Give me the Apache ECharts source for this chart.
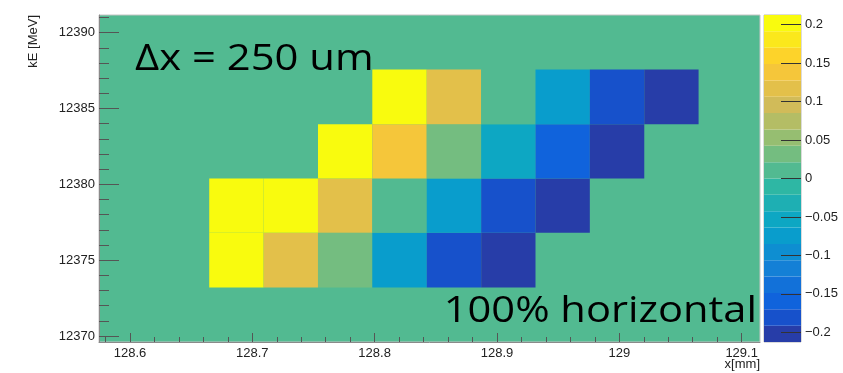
<!DOCTYPE html>
<html>
<head>
<meta charset="utf-8">
<script src="https://cdn.jsdelivr.net/npm/echarts@6/dist/echarts.min.js"></script>
<style>
  html, body { margin: 0; padding: 0; background: #fff; }
  #chart { width: 843px; height: 373px; }
</style>
</head>
<body>
<div id="chart"></div>
<script>
// Bin edges of the 2D histogram (x in mm, kinetic energy in MeV)
const xEdges = [128.6648, 128.7093, 128.7537, 128.7981, 128.8426, 128.8871, 128.9315, 128.9759, 129.0204, 129.0648];
const yEdges = [12373.19, 12376.80, 12380.39, 12383.97, 12387.58];

// Bin contents, one array per energy row (bottom to top), null = empty bin
const row0 = [0.20, 0.12, 0.03, -0.07, -0.18, -0.20, null, null, null];
const row1 = [0.20, 0.20, 0.12, 0.00, -0.07, -0.18, -0.20, null, null];
const row2 = [null, null, 0.20, 0.14, 0.03, -0.05, -0.16, -0.20, null];
const row3 = [null, null, null, 0.20, 0.12, 0.00, -0.07, -0.18, -0.20];
const rows = [row0, row1, row2, row3];

// Axis ranges and tick values
const xRange = [128.5747, 129.115];
const yRange = [12369.6, 12391.17];
const zRange = [-0.2125, 0.2125];
const nContours = 20;
const xMajor = [128.6, 128.7, 128.8, 128.9, 129.0, 129.1];
const yMajor = [12370, 12375, 12380, 12385, 12390];
const zTicks = [-0.2, -0.15, -0.1, -0.05, 0, 0.05, 0.1, 0.15, 0.2];

const xMinor = [];
for (let i = 0; i <= 26; i++) xMinor.push(+(128.58 + i * 0.02).toFixed(2));
const yMinor = [];
for (let v = 12370; v <= 12391; v++) yMinor.push(v);

// "Bird" palette
const birdStops = [0.0, 0.125, 0.25, 0.375, 0.5, 0.625, 0.75, 0.875, 1.0];
const birdR = [0.2082, 0.0592, 0.0780, 0.0232, 0.1802, 0.5301, 0.8186, 0.9956, 0.9764];
const birdG = [0.1664, 0.3599, 0.5041, 0.6419, 0.7178, 0.7492, 0.7328, 0.7862, 0.9832];
const birdB = [0.5293, 0.8684, 0.8385, 0.7914, 0.6425, 0.4662, 0.3499, 0.1968, 0.0539];

function bird(f) {
  let i = 0;
  while (i < birdStops.length - 2 && f > birdStops[i + 1]) i++;
  const t = (f - birdStops[i]) / (birdStops[i + 1] - birdStops[i]);
  const c = (a) => Math.round(255 * (a[i] + t * (a[i + 1] - a[i])));
  return 'rgb(' + c(birdR) + ',' + c(birdG) + ',' + c(birdB) + ')';
}
function contourColor(k) {
  const idx = Math.floor((k + 0.99) * 255 / nContours);
  return bird(idx / 254);
}
function contourIndex(v) {
  let k = Math.floor((v - zRange[0]) / (zRange[1] - zRange[0]) * nContours);
  return Math.max(0, Math.min(nContours - 1, k));
}

// Cells: [x0, x1, y0, y1, value]
const cells = [];
rows.forEach((row, r) => {
  row.forEach((v, c) => {
    if (v === null) return;
    cells.push([xEdges[c], xEdges[c + 1], yEdges[r], yEdges[r + 1], v]);
  });
});

// Colour bar bands: [0, 1, lo, hi, k]
const bands = [];
const dz = (zRange[1] - zRange[0]) / nContours;
for (let k = 0; k < nContours; k++) {
  bands.push([0, 1, zRange[0] + k * dz, zRange[0] + (k + 1) * dz, k]);
}

const FONT = '"Liberation Sans", Arial, sans-serif';
const BIG = '37px "Open Sans", sans-serif';
const labelStyle = { fontFamily: FONT, fontSize: 13, color: '#222' };
const plain = (v) => String(v);
const minus = (v) => String(v).replace('-', '\u2212');
const noZero = { onZero: false };

const chart = echarts.init(document.getElementById('chart'), null, { renderer: 'canvas' });

chart.setOption({
  animation: false,
  backgroundColor: '#fff',
  grid: [
    { left: 99, right: 83, top: 15, bottom: 31, show: true,
      backgroundColor: contourColor(10), borderColor: '#c4c4c4', borderWidth: 1 },
    { left: 764, width: 37, top: 15, bottom: 31, show: true,
      backgroundColor: 'transparent', borderColor: '#b8b8b8', borderWidth: 1 }
  ],
  xAxis: [
    { type: 'value', gridIndex: 0, position: 'bottom', min: xRange[0], max: xRange[1], z: 5,
      axisLine: { show: true, onZero: false, lineStyle: { color: '#8a8a8a', width: 1 } },
      axisTick: { show: true, inside: true, length: 9, customValues: xMajor,
        lineStyle: { color: '#555', width: 1 } },
      axisLabel: Object.assign({ customValues: xMajor, margin: 5, formatter: plain }, labelStyle),
      splitLine: { show: false } },
    { type: 'value', gridIndex: 0, position: 'bottom', min: xRange[0], max: xRange[1], z: 5,
      axisLine: { show: false, onZero: false },
      axisTick: { show: true, inside: true, length: 5, customValues: xMinor,
        lineStyle: { color: '#555', width: 1 } },
      axisLabel: { show: false }, splitLine: { show: false } },
    { type: 'value', gridIndex: 1, min: 0, max: 1, show: false, axisLine: noZero }
  ],
  yAxis: [
    { type: 'value', gridIndex: 0, position: 'left', min: yRange[0], max: yRange[1], z: 5,
      axisLine: { show: true, onZero: false, lineStyle: { color: '#8a8a8a', width: 1 } },
      axisTick: { show: true, inside: true, length: 20, customValues: yMajor,
        lineStyle: { color: '#555', width: 1 } },
      axisLabel: Object.assign({ customValues: yMajor, margin: 4, formatter: plain }, labelStyle),
      splitLine: { show: false } },
    { type: 'value', gridIndex: 0, position: 'left', min: yRange[0], max: yRange[1], z: 5,
      axisLine: { show: false, onZero: false },
      axisTick: { show: true, inside: true, length: 10, customValues: yMinor,
        lineStyle: { color: '#555', width: 1 } },
      axisLabel: { show: false }, splitLine: { show: false } },
    { type: 'value', gridIndex: 1, min: zRange[0], max: zRange[1], position: 'right', z: 5,
      axisLine: { show: false, onZero: false },
      axisTick: { show: true, inside: true, length: 20, customValues: zTicks,
        lineStyle: { color: '#333', width: 1 } },
      axisLabel: Object.assign({ customValues: zTicks, margin: 4, formatter: minus }, labelStyle),
      splitLine: { show: false } }
  ],
  series: [
    {
      type: 'custom', name: 'bins', xAxisIndex: 0, yAxisIndex: 0,
      data: cells,
      encode: { x: [0, 1], y: [2, 3] },
      renderItem: function (params, api) {
        const p0 = api.coord([api.value(0), api.value(2)]);
        const p1 = api.coord([api.value(1), api.value(3)]);
        return {
          type: 'rect',
          shape: { x: p0[0], y: p1[1], width: p1[0] - p0[0], height: p0[1] - p1[1] },
          style: { fill: contourColor(contourIndex(api.value(4))) }
        };
      }
    },
    {
      type: 'custom', name: 'palette', xAxisIndex: 2, yAxisIndex: 2,
      data: bands,
      encode: { x: [0, 1], y: [2, 3] },
      renderItem: function (params, api) {
        const p0 = api.coord([api.value(0), api.value(2)]);
        const p1 = api.coord([api.value(1), api.value(3)]);
        return {
          type: 'rect',
          shape: { x: p0[0], y: p1[1], width: p1[0] - p0[0], height: p0[1] - p1[1] },
          style: { fill: contourColor(api.value(4)) }
        };
      }
    }
  ],
  graphic: [
    { type: 'text', x: 135, y: 41, scaleX: 1.13, z: 20,
      style: { text: '\u0394x = 250 um', font: BIG, fill: '#000', align: 'left', verticalAlign: 'top' } },
    { type: 'text', x: 757, y: 293, scaleX: 1.125, z: 20,
      style: { text: '100% horizontal', font: BIG, fill: '#000', align: 'right', verticalAlign: 'top' } },
    { type: 'text', right: 83, top: 358, z: 20,
      style: { text: 'x[mm]', font: '13px ' + FONT, fill: '#222' } },
    { type: 'text', x: 27, y: 15, rotation: Math.PI / 2, z: 20,
      style: { text: 'kE [MeV]', font: '13px ' + FONT, fill: '#222', align: 'right', verticalAlign: 'top' } }
  ]
});
</script>
</body>
</html>
